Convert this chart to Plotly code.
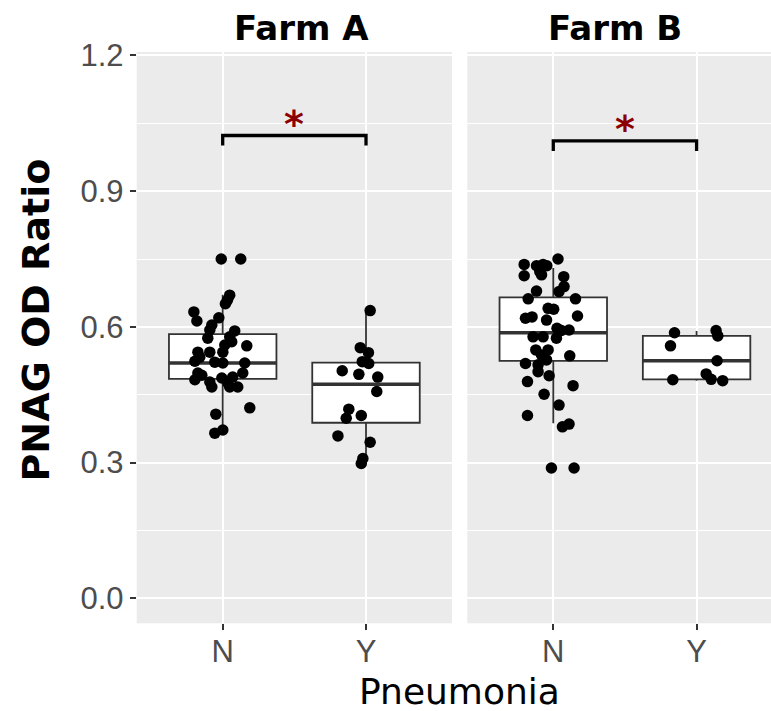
import plotly.graph_objects as go

# ---------------- data ----------------
farms = ["Farm A", "Farm B"]
categories = ["N", "Y"]
y_ticks = [0.0, 0.3, 0.6, 0.9, 1.2]
y_minor = [0.15, 0.45, 0.75, 1.05]

# jittered points: (offset from category centre, value)
farmA_N_jit = [-0.01, 0.126, 0.049, 0.033, 0.019, -0.201, -0.180, -0.027, -0.076, -0.090,
               -0.104, 0.084, 0.049, 0.063, 0.168, -0.173, -0.090, 0.001, -0.194, -0.055,
               0.001, 0.154, 0.140, -0.173, -0.146, -0.194, -0.090, -0.076, -0.006, 0.036,
               0.070, 0.105, 0.049, 0.189, -0.048, -0.055, 0.001, -0.160, 0.015]
farmA_N_val = [0.750, 0.750, 0.670, 0.659, 0.651, 0.633, 0.613, 0.620, 0.604, 0.593,
               0.575, 0.591, 0.578, 0.567, 0.558, 0.544, 0.544, 0.544, 0.524, 0.522,
               0.520, 0.520, 0.498, 0.498, 0.493, 0.483, 0.478, 0.467, 0.487, 0.476,
               0.489, 0.467, 0.467, 0.421, 0.407, 0.365, 0.372, 0.533, 0.560]

farmA_Y_jit = [0.029, -0.040, 0.017, -0.026, 0.019, -0.166, -0.050, 0.082, 0.075, -0.120,
               -0.138, -0.033, -0.196, 0.029, -0.022, -0.033]
farmA_Y_val = [0.636, 0.554, 0.543, 0.523, 0.519, 0.503, 0.495, 0.489, 0.457, 0.418,
               0.398, 0.404, 0.359, 0.345, 0.309, 0.298]

farmB_N_jit = [0.033, -0.203, -0.117, -0.071, -0.045, -0.094, -0.203, -0.082, 0.073, 0.075,
               0.040, -0.117, -0.175, 0.155, -0.036, 0.003, -0.194, -0.148, -0.047, 0.169,
               0.026, 0.057, 0.110, -0.141, -0.071, 0.022, -0.122, -0.036, -0.082, 0.115,
               -0.194, -0.106, -0.047, -0.106, -0.029, -0.180, 0.138, -0.064, 0.040, -0.180,
               0.064, 0.110, -0.013, 0.145]
farmB_N_val = [0.750, 0.738, 0.735, 0.738, 0.735, 0.722, 0.713, 0.715, 0.711, 0.689,
               0.678, 0.679, 0.662, 0.662, 0.641, 0.639, 0.619, 0.622, 0.615, 0.624,
               0.597, 0.592, 0.593, 0.578, 0.578, 0.575, 0.549, 0.549, 0.538, 0.536,
               0.519, 0.516, 0.527, 0.501, 0.492, 0.479, 0.470, 0.451, 0.427, 0.404,
               0.379, 0.385, 0.288, 0.288]

farmB_Y_jit = [-0.154, 0.136, 0.148, -0.182, 0.143, -0.166, 0.067, 0.102, 0.182]
farmB_Y_val = [0.587, 0.592, 0.580, 0.558, 0.525, 0.483, 0.496, 0.484, 0.481]

# box statistics per farm: [N, Y]
box_q1 = {"Farm A": [0.485, 0.388], "Farm B": [0.525, 0.484]}
box_median = {"Farm A": [0.520, 0.473], "Farm B": [0.587, 0.525]}
box_q3 = {"Farm A": [0.584, 0.521], "Farm B": [0.665, 0.580]}
box_lower = {"Farm A": [0.366, 0.299], "Farm B": [0.387, 0.481]}
box_upper = {"Farm A": [0.671, 0.636], "Farm B": [0.730, 0.591]}

# significance brackets
signif_label = {"Farm A": "*", "Farm B": "*"}
bracket_y = {"Farm A": 1.023, "Farm B": 1.011}
bracket_tip = 0.022

points = {
    "Farm A": [(farmA_N_jit, farmA_N_val), (farmA_Y_jit, farmA_Y_val)],
    "Farm B": [(farmB_N_jit, farmB_N_val), (farmB_Y_jit, farmB_Y_val)],
}

# ---------------- figure ----------------
W, H = 771, 711
BOX_W = 0.75
LINE_C = "#333333"
TICK_FONT = dict(family="Liberation Sans, Arial, sans-serif", size=31, color="#4D4D4D")

fig = go.Figure()
cat_pos = [i + 1 for i in range(len(categories))]

for fi, farm in enumerate(farms):
    xa = "x" if fi == 0 else "x2"
    ya = "y" if fi == 0 else "y2"
    fig.add_trace(go.Box(
        x=cat_pos, q1=box_q1[farm], median=box_median[farm], q3=box_q3[farm],
        lowerfence=box_lower[farm], upperfence=box_upper[farm],
        width=BOX_W, fillcolor="white", line=dict(color=LINE_C, width=1.8),
        whiskerwidth=0, boxpoints=False, xaxis=xa, yaxis=ya, showlegend=False,
        hoverinfo="skip"))
    for ci, c in enumerate(cat_pos):
        m = box_median[farm][ci]
        fig.add_trace(go.Scatter(
            x=[c - BOX_W / 2, c + BOX_W / 2], y=[m, m], mode="lines",
            line=dict(color=LINE_C, width=3.6), xaxis=xa, yaxis=ya,
            showlegend=False, hoverinfo="skip"))
    for ci, c in enumerate(cat_pos):
        jit, val = points[farm][ci]
        fig.add_trace(go.Scatter(
            x=[c + j for j in jit], y=val, mode="markers",
            marker=dict(color="black", size=11.5),
            xaxis=xa, yaxis=ya, showlegend=False))
    by = bracket_y[farm]
    fig.add_trace(go.Scatter(
        x=[cat_pos[0], cat_pos[0], cat_pos[1], cat_pos[1]],
        y=[by - bracket_tip, by, by, by - bracket_tip], mode="lines",
        line=dict(color="black", width=3.3), xaxis=xa, yaxis=ya,
        showlegend=False, hoverinfo="skip"))
    fig.add_annotation(
        x=(cat_pos[0] + cat_pos[1]) / 2, y=by, xref=xa, yref=ya,
        text=f"<b>{signif_label[farm]}</b>", showarrow=False, yanchor="bottom", yshift=-12,
        font=dict(family="DejaVu Sans", size=38, color="#8B0000"))

px_unit = 143.3
xA_left, xA_right = 136.7, 452.0
xB_left = 467.3
xB_max = 0.4 + (W - xB_left) / px_unit

common_x = dict(tickvals=cat_pos, ticktext=categories, showgrid=True,
                gridcolor="white", gridwidth=1.8, zeroline=False,
                ticks="outside", ticklen=6, tickwidth=1.8, tickcolor=LINE_C,
                tickfont=TICK_FONT, showline=False, ticklabelstandoff=-6)
fig.update_layout(
    width=W, height=H, margin=dict(l=0, r=0, t=0, b=0, pad=0), autosize=False,
    paper_bgcolor="white", plot_bgcolor="#EBEBEB",
    xaxis=dict(domain=[xA_left / W, xA_right / W], range=[0.4, 2.6], anchor="y",
               automargin=False, **common_x),
    xaxis2=dict(domain=[xB_left / W, 1.0], range=[0.4, xB_max], anchor="y2",
                automargin=False, **common_x),
    yaxis=dict(domain=[1 - 623.3 / H, 1 - 52.0 / H], range=[-0.0553, 1.2076],
               tickvals=y_ticks, ticktext=[f"{v:.1f}" for v in y_ticks],
               showgrid=True, gridcolor="white", gridwidth=1.8, zeroline=False,
               ticks="outside", ticklen=6, tickwidth=1.8, tickcolor=LINE_C,
               tickfont=TICK_FONT, anchor="x", automargin=False,
               minor=dict(tickvals=y_minor, showgrid=True, gridcolor="white",
                          gridwidth=0.9, ticks="")),
    yaxis2=dict(domain=[1 - 623.3 / H, 1 - 52.0 / H], range=[-0.0553, 1.2076],
                tickvals=y_ticks, showticklabels=False, ticks="",
                showgrid=True, gridcolor="white", gridwidth=1.8, zeroline=False,
                anchor="x2", automargin=False,
                minor=dict(tickvals=y_minor, showgrid=True, gridcolor="white",
                           gridwidth=0.9, ticks="")),
)

strip_x = {"Farm A": 301.7, "Farm B": 615.0}
for farm in farms:
    fig.add_annotation(x=strip_x[farm] / W, y=1 - 28 / H, xref="paper", yref="paper",
                       text=f"<b>{farm}</b>", showarrow=False, xanchor="center", yanchor="middle",
                       font=dict(family="DejaVu Sans", size=34, color="black"))

fig.add_annotation(x=35 / W, y=1 - 320.5 / H, xref="paper", yref="paper",
                   text="<b>PNAG OD Ratio</b>", textangle=-90, showarrow=False,
                   xanchor="center", yanchor="middle",
                   font=dict(family="DejaVu Sans", size=38, color="black"))
fig.add_annotation(x=459 / W, y=1 - 691 / H, xref="paper", yref="paper",
                   text="Pneumonia", showarrow=False, xanchor="center", yanchor="middle",
                   font=dict(family="DejaVu Sans", size=36, color="black"))

fig.write_html("out.html", config={"displayModeBar": False},
               post_script="document.body.style.margin='0';document.body.style.overflow='hidden';")
